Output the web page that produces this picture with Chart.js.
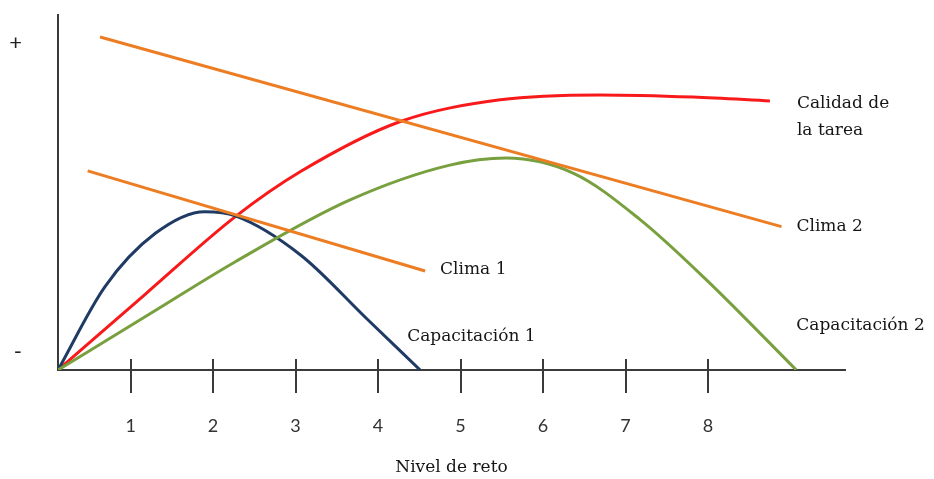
<!DOCTYPE html>
<html>
<head>
<meta charset="utf-8">
<script src="https://cdn.jsdelivr.net/npm/chart.js@4/dist/chart.umd.min.js"></script>
<style>
  html, body { margin: 0; padding: 0; background: #fff; }
  canvas { display: block; }
</style>
</head>
<body>
<canvas id="retoChart" width="934" height="479"></canvas>
<script>
// valores (x = nivel de reto, y = escala relativa 0-100)
const xTicks = [1, 2, 3, 4, 5, 6, 7, 8];

const calidadX = [0.12, 1.18, 2.27, 3.06, 4.27, 5.48, 6.69, 7.82, 8.75];
const calidadY = [0, 21.4, 43.2, 55.9, 70.0, 76.1, 77.5, 76.9, 75.8];

const capac1X = [0.12, 0.69, 1.30, 1.90, 2.27, 3.06, 3.86, 4.51];
const capac1Y = [0, 23.5, 38.5, 44.6, 43.4, 32.4, 14.5, 0];

const capac2X = [0.12, 1.24, 2.27, 3.66, 4.87, 5.55, 6.37, 7.18, 7.98, 9.07];
const capac2Y = [0, 15.9, 30.5, 47.9, 57.7, 59.7, 55.4, 42.3, 25.4, 0];

const clima1X = [0.48, 4.57];
const clima1Y = [56.1, 27.9];

const clima2X = [0.63, 8.89];
const clima2Y = [93.8, 40.4];

function pts(xs, ys) {
    return xs.map((x, i) => ({ x: x, y: ys[i] }));
}

const serif = '"DejaVu Serif", serif';
const axisColor = '#3a3a3a';

// etiquetas al final de cada curva (desplazamiento en px)
const curveLabels = {
    'Calidad de la tarea': { lines: ['Calidad de', 'la tarea'], dx: 27, dy: 3 },
    'Clima 2': { lines: ['Clima 2'], dx: 15, dy: 0 },
    'Clima 1': { lines: ['Clima 1'], dx: 15, dy: -1 },
    'Capacitación 1': { lines: ['Capacitación 1'], dx: -13, dy: -33 },
    'Capacitación 2': { lines: ['Capacitación 2'], dx: 0, dy: -44 }
};

const endLabels = {
    id: 'endLabels',
    afterDatasetsDraw(chart) {
        const ctx = chart.ctx;
        ctx.save();
        ctx.font = '17px ' + serif;
        ctx.fillStyle = '#161616';
        ctx.textAlign = 'left';
        ctx.textBaseline = 'middle';
        chart.data.datasets.forEach((ds, i) => {
            const cfg = curveLabels[ds.label];
            const meta = chart.getDatasetMeta(i);
            const last = meta.data[meta.data.length - 1];
            cfg.lines.forEach((t, j) => {
                ctx.fillText(t, last.x + cfg.dx, last.y + cfg.dy + j * 27);
            });
        });
        ctx.restore();
    }
};

// marcas que cruzan el eje x (la parte de arriba)
const crossTicks = {
    id: 'crossTicks',
    afterDraw(chart) {
        const x = chart.scales.x;
        const ctx = chart.ctx;
        const bottom = chart.chartArea.bottom;
        ctx.save();
        ctx.strokeStyle = axisColor;
        ctx.lineWidth = 2;
        x.ticks.forEach(t => {
            const px = Math.round(x.getPixelForValue(t.value));
            ctx.beginPath();
            ctx.moveTo(px, bottom - 11);
            ctx.lineTo(px, bottom);
            ctx.stroke();
        });
        ctx.restore();
    }
};

function line(label, data, color) {
    return {
        label: label,
        data: data,
        borderColor: color,
        borderWidth: 3,
        pointRadius: 0,
        fill: false,
        cubicInterpolationMode: 'monotone'
    };
}

const ctx = document.getElementById('retoChart').getContext('2d');
const retoChart = new Chart(ctx, {
    type: 'line',
    data: {
        datasets: [
            line('Clima 2', pts(clima2X, clima2Y), '#ED7D23'),
            line('Clima 1', pts(clima1X, clima1Y), '#ED7D23'),
            line('Capacitación 2', pts(capac2X, capac2Y), '#79A03E'),
            line('Capacitación 1', pts(capac1X, capac1Y), '#1F3B64'),
            line('Calidad de la tarea', pts(calidadX, calidadY), '#F81A1A')
        ]
    },
    options: {
        responsive: false,
        animation: false,
        layout: { padding: { top: 15, right: 89, left: 0, bottom: 0 } },
        plugins: {
            legend: { display: false },
            tooltip: { enabled: false }
        },
        scales: {
            x: {
                type: 'linear',
                min: 0.12,
                max: 9.66,
                afterBuildTicks: s => { s.ticks = xTicks.map(v => ({ value: v })); },
                afterFit: s => { s.height = 109; s.paddingLeft = 0; s.paddingRight = 0; },
                grid: {
                    drawOnChartArea: false,
                    drawTicks: true,
                    tickLength: 23,
                    color: axisColor,
                    lineWidth: 2
                },
                border: { display: true, color: axisColor, width: 2 },
                ticks: {
                    padding: 22,
                    color: '#333',
                    font: { family: 'Lato', size: 18 },
                    callback: v => String(v)
                },
                title: {
                    display: true,
                    text: 'Nivel de reto',
                    color: '#161616',
                    font: { family: serif, size: 17 },
                    padding: { top: 0, bottom: 1 }
                }
            },
            y: {
                min: 0,
                max: 100,
                afterBuildTicks: s => { s.ticks = [{ value: 92 }, { value: 5 }]; },
                afterFit: s => { s.width = 58; s.paddingTop = 0; s.paddingBottom = 0; },
                grid: { display: false, drawTicks: false },
                border: { display: true, color: axisColor, width: 2 },
                ticks: {
                    padding: 36,
                    color: '#222',
                    font: { family: 'Lato', size: 22 },
                    callback: v => (v > 50 ? '+' : '-')
                }
            }
        }
    },
    plugins: [endLabels, crossTicks]
});
</script>
</body>
</html>
